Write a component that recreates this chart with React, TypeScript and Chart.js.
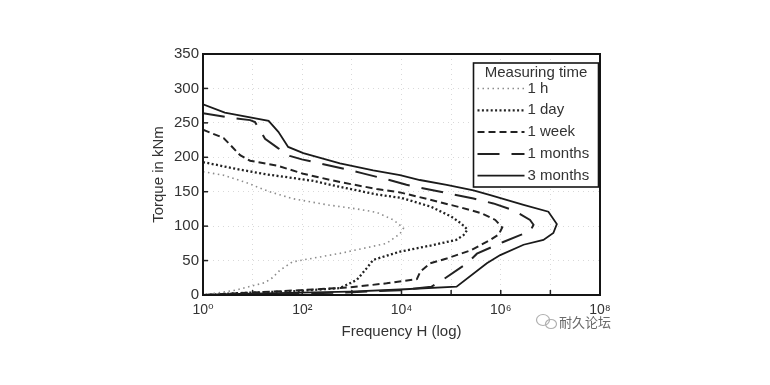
import React, { useEffect, useRef } from "react";
import { Chart, registerables } from "chart.js";

Chart.register(...registerables);

// ---- data (frequency H, torque kNm) ----
const seriesLabels = ["1 h", "1 day", "1 week", "1 months", "3 months"];

const hourFreq = [1, 2.6, 7.6, 20, 63, 316, 1260, 3160, 6920, 10960, 9330, 5010, 631, 126, 63, 35.5, 25, 17.8, 4.5, 1];
const hourTorque = [179, 174, 163, 151, 140, 131, 125, 120, 109, 97, 89, 75, 61, 52, 48, 36, 25, 18, 7, 0];

const dayFreq = [1, 5.6, 20, 158, 500, 3160, 10000, 39800, 100000, 158500, 213800, 177800, 125900, 39800, 9330, 2690, 1995, 1260, 575, 91, 4.1, 1];
const dayTorque = [193, 182, 175, 166, 158, 146, 141, 128, 114, 104, 95, 87, 80, 72, 63, 51, 39, 22, 10, 6, 2.4, 0];

const weekFreq = [1, 2.6, 5.6, 8.9, 31, 105, 575, 3160, 9330, 39800, 158500, 398100, 776200, 1071500, 912000, 616600, 251200, 81300, 38000, 24000, 20400, 5010, 912, 91, 8.9, 1];
const weekTorque = [240, 228, 203, 195, 188, 176, 164, 154, 149, 138, 127, 119, 109, 98, 88, 80, 65, 53, 46, 34, 23, 17, 11, 7, 3.4, 0];

const monthFreq = [1, 3.8, 8.9, 11.2, 17.8, 33, 56, 98, 229, 724, 1585, 5010, 12600, 81300, 281800, 707900, 1820000, 3890000, 4570000, 3890000, 2455000, 1122000, 331100, 208900, 70800, 39800, 10000, 1000, 32, 1];
const monthTorque = [264, 257, 254, 251, 227, 213, 202, 197, 191, 183, 177, 168, 160, 148, 140, 133, 123, 109, 102, 92, 87, 77, 60, 46, 23, 12, 7, 4, 1.5, 0];

const threeMonthFreq = [1, 2.75, 21, 33, 52, 105, 575, 2690, 9330, 23400, 81300, 281800, 616600, 2884000, 9120000, 13490000, 11480000, 7244000, 2884000, 977200, 524800, 128800, 9330, 912, 5.6, 1];
const threeMonthTorque = [277, 265, 253, 237, 215, 206, 191, 181, 174, 167, 160, 152, 145, 131, 121, 103, 90, 80, 73, 58, 46, 12, 8, 5, 1.5, 0];

const xTickExponents = [0, 1, 2, 3, 4, 5, 6, 7, 8];
const yTickValues = [0, 50, 100, 150, 200, 250, 300, 350];
const xTitle = "Frequency H (log)";
const yTitle = "Torque in kNm";
const legendTitle = "Measuring time";
const watermarkText = "耐久论坛";

const SUP: Record<string, string> = { "0": "⁰", "1": "¹", "2": "²", "3": "³", "4": "⁴", "5": "⁵", "6": "⁶", "7": "⁷", "8": "⁸", "9": "⁹" };
const FONT = "'Liberation Sans', Arial, Helvetica, 'DejaVu Sans', sans-serif";
const TEXT = "#333";

const styles = [
  { color: "#8c8c8c", width: 1.6, dash: [1.5, 3.5] },
  { color: "#222", width: 2.3, dash: [2, 2.4] },
  { color: "#222", width: 2, dash: [7, 4] },
  { color: "#222", width: 2, dash: [22, 12] },
  { color: "#1a1a1a", width: 1.8, dash: [] as number[] },
];

const pairs = (fx: number[], ty: number[]) => fx.map((f, i) => ({ x: f, y: ty[i] }));

const decorPlugin = {
  id: "decor",
  afterDatasetsDraw(chart: any) {
    const { ctx, chartArea: a, scales } = chart;
    ctx.save();
    // inner tick marks
    ctx.strokeStyle = "#222";
    ctx.lineWidth = 1.5;
    ctx.setLineDash([]);
    xTickExponents.forEach((e) => {
      const px = scales.x.getPixelForValue(Math.pow(10, e));
      ctx.beginPath();
      ctx.moveTo(px, a.bottom);
      ctx.lineTo(px, a.bottom - 5);
      ctx.stroke();
    });
    yTickValues.forEach((v) => {
      const py = scales.y.getPixelForValue(v);
      ctx.beginPath();
      ctx.moveTo(a.left, py);
      ctx.lineTo(a.left + 5, py);
      ctx.stroke();
    });
    // frame
    ctx.lineWidth = 2;
    ctx.strokeStyle = "#151515";
    ctx.strokeRect(a.left, a.top, a.right - a.left, a.bottom - a.top);

    // legend box
    const lw = 125, lh = 124;
    const lx = a.right - lw - 1.5;
    const ly = a.top + 9;
    ctx.fillStyle = "#fff";
    ctx.fillRect(lx, ly, lw, lh);
    ctx.lineWidth = 1.6;
    ctx.strokeStyle = "#151515";
    ctx.strokeRect(lx, ly, lw, lh);
    ctx.fillStyle = TEXT;
    ctx.font = `15px ${FONT}`;
    ctx.textBaseline = "middle";
    ctx.textAlign = "center";
    ctx.fillText(legendTitle, lx + lw / 2, ly + 10);
    ctx.textAlign = "left";
    chart.data.datasets.forEach((ds: any, i: number) => {
      const y = ly + 25.5 + i * 21.8;
      ctx.save();
      ctx.strokeStyle = ds.borderColor;
      ctx.lineWidth = ds.borderWidth;
      ctx.setLineDash(ds.borderDash || []);
      ctx.beginPath();
      ctx.moveTo(lx + 4, y);
      ctx.lineTo(lx + 51, y);
      ctx.stroke();
      ctx.restore();
      ctx.fillStyle = TEXT;
      ctx.fillText(ds.label, lx + 54, y);
    });
    ctx.restore();
  },
  afterDraw(chart: any) {
    const { ctx } = chart;
    ctx.save();
    // watermark icon (two bubbles) + text
    ctx.strokeStyle = "#b0b0b0";
    ctx.lineWidth = 1.2;
    ctx.beginPath();
    ctx.ellipse(543, 320, 6.5, 5.5, 0, 0, Math.PI * 2);
    ctx.stroke();
    ctx.beginPath();
    ctx.ellipse(551, 324, 5.5, 4.5, 0, 0, Math.PI * 2);
    ctx.stroke();
    ctx.fillStyle = "#6a6a6a";
    ctx.font = `13px 'Noto Sans CJK SC', sans-serif`;
    ctx.textBaseline = "middle";
    ctx.textAlign = "left";
    ctx.fillText(watermarkText, 559, 322);
    ctx.restore();
  },
};

export default function App() {
  const canvasRef = useRef<HTMLCanvasElement | null>(null);

  useEffect(() => {
    if (!canvasRef.current) return;
    const sets = [
      pairs(hourFreq, hourTorque),
      pairs(dayFreq, dayTorque),
      pairs(weekFreq, weekTorque),
      pairs(monthFreq, monthTorque),
      pairs(threeMonthFreq, threeMonthTorque),
    ];
    const chart = new Chart(canvasRef.current, {
      type: "scatter",
      data: {
        datasets: sets.map((d, i) => ({
          label: seriesLabels[i],
          data: d,
          showLine: true,
          borderColor: styles[i].color,
          backgroundColor: styles[i].color,
          borderWidth: styles[i].width,
          borderDash: styles[i].dash,
          pointRadius: 0,
          fill: false,
          tension: 0,
        })),
      },
      options: {
        responsive: false,
        animation: false,
        layout: { padding: { left: 143, right: 170, top: 54, bottom: 40 } },
        plugins: { legend: { display: false }, tooltip: { enabled: false } },
        scales: {
          x: {
            type: "logarithmic",
            min: 1,
            max: 1e8,
            afterFit: (s: any) => {
              s.height = 50;
            },
            afterBuildTicks: (s: any) => {
              s.ticks = xTickExponents.map((e) => ({ value: Math.pow(10, e) }));
            },
            ticks: {
              autoSkip: false,
              maxRotation: 0,
              padding: 7,
              color: TEXT,
              font: { family: FONT, size: 14 },
              callback: (v: any) => {
                const e = Math.round(Math.log10(Number(v)));
                if (e % 2 !== 0) return "";
                return "10" + String(e).split("").map((c) => SUP[c]).join("");
              },
            },
            grid: { color: "#d9d9d9", lineWidth: 1, drawTicks: false },
            border: { display: false, dash: [1, 4] },
            title: {
              display: true,
              text: xTitle,
              color: TEXT,
              font: { family: FONT, size: 15 },
              padding: { top: 0, bottom: 4 },
            },
          },
          y: {
            min: 0,
            max: 350,
            afterFit: (s: any) => {
              s.width = 60;
            },
            afterBuildTicks: (s: any) => {
              s.ticks = yTickValues.map((v) => ({ value: v }));
            },
            ticks: {
              padding: 4,
              color: TEXT,
              font: { family: FONT, size: 15 },
            },
            grid: { color: "#d9d9d9", lineWidth: 1, drawTicks: false },
            border: { display: false, dash: [1, 4] },
            title: {
              display: true,
              text: yTitle,
              color: TEXT,
              font: { family: FONT, size: 15 },
              padding: { top: 7, bottom: 0 },
            },
          },
        },
      },
      plugins: [decorPlugin],
    } as any);
    return () => chart.destroy();
  }, []);

  return (
    <div style={{ position: "fixed", left: 0, top: 0, width: 770, height: 385, background: "#fff" }}>
      <canvas ref={canvasRef} width={770} height={385} style={{ display: "block" }} />
    </div>
  );
}
